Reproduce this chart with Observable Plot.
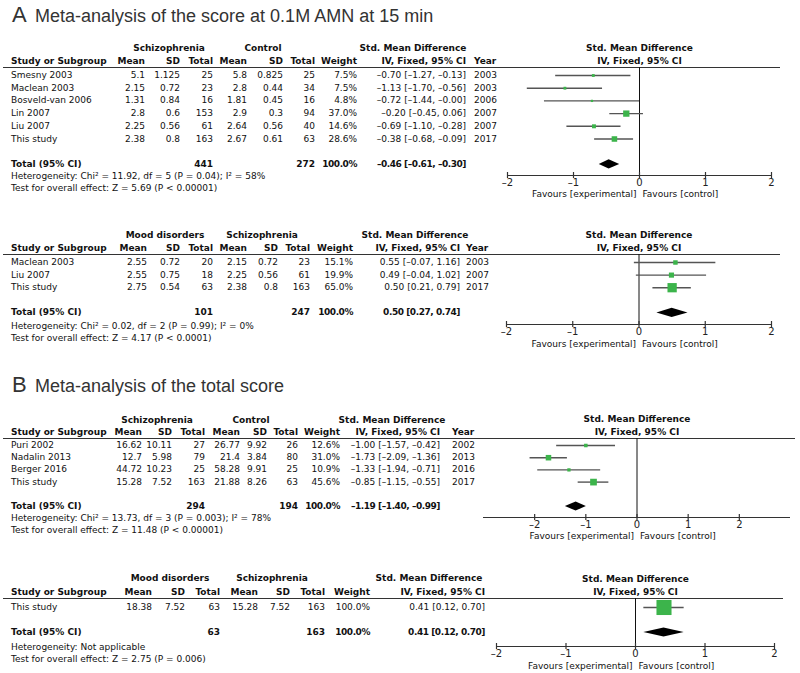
<!DOCTYPE html>
<html><head><meta charset="utf-8">
<script src="https://cdn.jsdelivr.net/npm/d3@7"></script>
<script src="https://cdn.jsdelivr.net/npm/@observablehq/plot@0.6"></script>
<style>
body{margin:0;background:#fff;}
#fig{position:relative;width:800px;height:673px;overflow:hidden;font-family:"DejaVu Sans",sans-serif;color:#111;background:#fff;}
.t{position:absolute;white-space:nowrap;line-height:1;font-size:9px;}
.rule{position:absolute;height:0;border-top:1.2px solid #333;}
.ttl{position:absolute;font-family:"Liberation Sans",Arial,sans-serif;color:#333;white-space:nowrap;line-height:1;transform:translateY(-50%);}
</style></head><body><div id="fig"></div>
<script>
// ---------- Panel A1: score at 0.1M AMN, Schizophrenia vs Control ----------
const a1Study = ["Smesny 2003","Maclean 2003","Bosveld-van 2006","Lin 2007","Liu 2007","This study"];
const a1Mean1 = [5.1, 2.15, 1.31, 2.8, 2.25, 2.38];
const a1Sd1   = [1.125, 0.72, 0.84, 0.6, 0.56, 0.8];
const a1N1    = [25, 23, 16, 153, 61, 163];
const a1Mean2 = [5.8, 2.8, 1.81, 2.9, 2.64, 2.67];
const a1Sd2   = [0.825, 0.44, 0.45, 0.3, 0.56, 0.61];
const a1N2    = [25, 34, 16, 94, 40, 63];
const a1Weight= [7.5, 7.5, 4.8, 37.0, 14.6, 28.6];
const a1Smd   = [-0.70, -1.13, -0.72, -0.20, -0.69, -0.38];
const a1Lo    = [-1.27, -1.70, -1.44, -0.45, -1.10, -0.68];
const a1Hi    = [-0.13, -0.56, -0.00, 0.06, -0.28, -0.09];
const a1Year  = [2003, 2003, 2006, 2007, 2007, 2017];
const a1Total = {n1: 441, n2: 272, w: 100.0, smd: -0.46, lo: -0.61, hi: -0.30};
const a1Het   = "Heterogeneity: Chi² = 11.92, df = 5 (P = 0.04); I² = 58%";
const a1Test  = "Test for overall effect: Z = 5.69 (P < 0.00001)";

// ---------- Panel A2: Mood disorders vs Schizophrenia ----------
const a2Study = ["Maclean 2003","Liu 2007","This study"];
const a2Mean1 = [2.55, 2.55, 2.75];
const a2Sd1   = [0.72, 0.75, 0.54];
const a2N1    = [20, 18, 63];
const a2Mean2 = [2.15, 2.25, 2.38];
const a2Sd2   = [0.72, 0.56, 0.8];
const a2N2    = [23, 61, 163];
const a2Weight= [15.1, 19.9, 65.0];
const a2Smd   = [0.55, 0.49, 0.50];
const a2Lo    = [-0.07, -0.04, 0.21];
const a2Hi    = [1.16, 1.02, 0.79];
const a2Year  = [2003, 2007, 2017];
const a2Total = {n1: 101, n2: 247, w: 100.0, smd: 0.50, lo: 0.27, hi: 0.74};
const a2Het   = "Heterogeneity: Chi² = 0.02, df = 2 (P = 0.99); I² = 0%";
const a2Test  = "Test for overall effect: Z = 4.17 (P < 0.0001)";

// ---------- Panel B1: total score, Schizophrenia vs Control ----------
const b1Study = ["Puri 2002","Nadalin 2013","Berger 2016","This study"];
const b1Mean1 = [16.62, 12.7, 44.72, 15.28];
const b1Sd1   = [10.11, 5.98, 10.23, 7.52];
const b1N1    = [27, 79, 25, 163];
const b1Mean2 = [26.77, 21.4, 58.28, 21.88];
const b1Sd2   = [9.92, 3.84, 9.91, 8.26];
const b1N2    = [26, 80, 25, 63];
const b1Weight= [12.6, 31.0, 10.9, 45.6];
const b1Smd   = [-1.00, -1.73, -1.33, -0.85];
const b1Lo    = [-1.57, -2.09, -1.94, -1.15];
const b1Hi    = [-0.42, -1.36, -0.71, -0.55];
const b1Year  = [2002, 2013, 2016, 2017];
const b1Total = {n1: 294, n2: 194, w: 100.0, smd: -1.19, lo: -1.40, hi: -0.99};
const b1Het   = "Heterogeneity: Chi² = 13.73, df = 3 (P = 0.003); I² = 78%";
const b1Test  = "Test for overall effect: Z = 11.48 (P < 0.00001)";

// ---------- Panel B2: Mood disorders vs Schizophrenia ----------
const b2Study = ["This study"];
const b2Mean1 = [18.38];
const b2Sd1   = [7.52];
const b2N1    = [63];
const b2Mean2 = [15.28];
const b2Sd2   = [7.52];
const b2N2    = [163];
const b2Weight= [100.0];
const b2Smd   = [0.41];
const b2Lo    = [0.12];
const b2Hi    = [0.70];
const b2Total = {n1: 63, n2: 163, w: 100.0, smd: 0.41, lo: 0.12, hi: 0.70};
const b2Het   = "Heterogeneity: Not applicable";
const b2Test  = "Test for overall effect: Z = 2.75 (P = 0.006)";

const axisTicks = [-2, -1, 0, 1, 2];
const GREEN = "#3cb44b";

const fig = document.getElementById("fig");
function txt(s, x, y, o = {}) {
  const d = document.createElement("div");
  d.className = "t";
  d.textContent = s;
  d.style.left = x + "px";
  d.style.top = y + "px";
  const tx = o.anchor === "end" ? "-100%" : o.anchor === "middle" ? "-50%" : "0";
  d.style.transform = `translate(${tx},-50%)`;
  if (o.bold) d.style.fontWeight = "bold";
  if (o.tight) d.style.letterSpacing = "-0.45px";
  fig.appendChild(d);
}
function title(letter, text, y) {
  const a = document.createElement("div");
  a.className = "ttl"; a.textContent = letter;
  a.style.left = "12px"; a.style.top = y + "px"; a.style.fontSize = "22px";
  fig.appendChild(a);
  const b = document.createElement("div");
  b.className = "ttl"; b.textContent = text;
  b.style.left = "35px"; b.style.top = (y + 1) + "px"; b.style.fontSize = "18px";
  fig.appendChild(b);
}
const sgn = v => (v < 0 || Object.is(v, -0)) ? "–" + Math.abs(v).toFixed(2) : v.toFixed(2);
const ciStr = (e, l, h) => `${sgn(e)} [${sgn(l)}, ${sgn(h)}]`;
const pct = v => v.toFixed(1) + "%";
const tickFmt = d => d < 0 ? "–" + Math.abs(d) : String(d);

function panel(D, L) {
  const c = L.cols;
  txt(D.g1, L.g1c, L.grpY, {anchor: "middle", bold: true});
  txt(D.g2, L.g2c, L.grpY, {anchor: "middle", bold: true});
  txt("Std. Mean Difference", L.smdc, L.grpY, {anchor: "middle", bold: true});
  txt("Study or Subgroup", c.study, L.hdrY, {bold: true});
  [["Mean", c.m1], ["SD", c.s1], ["Total", c.n1], ["Mean", c.m2], ["SD", c.s2], ["Total", c.n2], ["Weight", c.w], ["IV, Fixed, 95% CI", c.ci]]
    .forEach(([s, x]) => txt(s, x, L.hdrY, {anchor: "end", bold: true}));
  if (D.year) txt("Year", c.year, L.hdrY, {bold: true});
  const r = document.createElement("div");
  r.className = "rule";
  r.style.left = "3px"; r.style.width = (L.ruleRight - 3) + "px"; r.style.top = L.lineY + "px";
  fig.appendChild(r);
  D.study.forEach((s, i) => {
    const y = L.row0 + i * L.step;
    txt(s, c.study, y);
    txt(String(D.m1[i]), c.m1, y, {anchor: "end"});
    txt(String(D.s1[i]), c.s1, y, {anchor: "end"});
    txt(String(D.n1[i]), c.n1, y, {anchor: "end"});
    txt(String(D.m2[i]), c.m2, y, {anchor: "end"});
    txt(String(D.s2[i]), c.s2, y, {anchor: "end"});
    txt(String(D.n2[i]), c.n2, y, {anchor: "end"});
    txt(pct(D.w[i]), c.w, y, {anchor: "end"});
    txt(ciStr(D.smd[i], D.lo[i], D.hi[i]), c.ci, y, {anchor: "end"});
    if (D.year) txt(String(D.year[i]), c.year, y);
  });
  const n = D.study.length;
  const ty = L.row0 + (n + 1) * L.step;
  const T = D.total;
  txt("Total (95% CI)", c.study, ty, {bold: true});
  txt(String(T.n1), c.n1, ty, {anchor: "end", bold: true});
  txt(String(T.n2), c.n2, ty, {anchor: "end", bold: true});
  txt(pct(T.w), c.w, ty, {anchor: "end", bold: true, tight: true});
  txt(ciStr(T.smd, T.lo, T.hi), c.ci, ty, {anchor: "end", bold: true, tight: true});
  txt(D.het, c.study, L.hetY);
  txt(D.test, c.study, L.testY);

  // forest plot
  const rows = D.study.map((s, i) => ({i, est: D.smd[i], lo: D.lo[i], hi: D.hi[i], w: D.w[i]}));
  const h = 4.6 / L.step;
  const diamond = [
    {y: n + 1 - h, x1: T.smd, x2: T.smd},
    {y: n + 1, x1: T.lo, x2: T.hi},
    {y: n + 1 + h, x1: T.smd, x2: T.smd}
  ];
  const yTop = -(L.row0 - L.lineY) / L.step;
  const yBot = (L.axisY - L.row0) / L.step;
  const tk = 3 / L.step;
  const top = L.lineY - 30;
  const H = L.axisY - top + 30;
  const svg = Plot.plot({
    width: 800, height: H,
    marginLeft: L.xL, marginRight: 800 - L.xR, marginTop: 30, marginBottom: 30,
    x: {domain: L.xDomain},
    y: {domain: [yTop, yBot], reverse: true, axis: null},
    r: {type: "sqrt", domain: [0, 100], range: [0, L.rMax]},
    style: {background: "transparent", overflow: "visible", fontFamily: "DejaVu Sans", fontSize: "9px", color: "#111"},
    marks: [
      Plot.ruleX([0], {stroke: "#111", strokeWidth: 1}),
      Plot.ruleY([yBot], {stroke: "#333", strokeWidth: 1.2}),
      Plot.ruleX(axisTicks, {x: d => d, y1: yBot - tk, y2: yBot + tk, stroke: "#333", strokeWidth: 1.2}),
      Plot.axisX({ticks: axisTicks, tickSize: 0, tickPadding: 3, tickFormat: tickFmt, fontSize: 10, fill: "#222", label: null}),
      Plot.ruleY(rows, {y: "i", x1: "lo", x2: "hi", stroke: "#555", strokeWidth: 1.4}),
      Plot.dot(rows, {x: "est", y: "i", r: "w", symbol: "square", fill: GREEN, stroke: "none"}),
      Plot.areaX(diamond, {y: "y", x1: "x1", x2: "x2", fill: "#000"}),
      Plot.text(["Std. Mean Difference"], {x: () => 0, frameAnchor: "top", lineAnchor: "middle", dy: -19, fontWeight: "bold"}),
      Plot.text(["IV, Fixed, 95% CI"], {x: () => 0, frameAnchor: "top", lineAnchor: "middle", dy: -6, fontWeight: "bold"}),
      Plot.text(["Favours [experimental]"], {x: () => 0, frameAnchor: "bottom", lineAnchor: "middle", dy: L.favDy, dx: -3, textAnchor: "end"}),
      Plot.text(["Favours [control]"], {x: () => 0, frameAnchor: "bottom", lineAnchor: "middle", dy: L.favDy, dx: 3, textAnchor: "start"})
    ]
  });
  svg.style.position = "absolute";
  svg.style.left = "0px";
  svg.style.top = top + "px";
  fig.appendChild(svg);
}

title("A", "Meta-analysis of the score at 0.1M AMN at 15 min", 15);
title("B", "Meta-analysis of the total score", 385);

panel(
  {g1: "Schizophrenia", g2: "Control", study: a1Study, m1: a1Mean1, s1: a1Sd1, n1: a1N1, m2: a1Mean2, s2: a1Sd2, n2: a1N2,
   w: a1Weight, smd: a1Smd, lo: a1Lo, hi: a1Hi, year: a1Year, total: a1Total, het: a1Het, test: a1Test},
  {cols: {study: 11, m1: 145, s1: 180, n1: 213, m2: 247, s2: 283, n2: 315, w: 357, ci: 466, year: 474},
   g1c: 169, g2c: 263, smdc: 413, grpY: 48, hdrY: 61, lineY: 67, row0: 75, step: 12.7, hetY: 176, testY: 188,
   axisY: 175, ruleRight: 780, xDomain: [-2, 2], xL: 507, xR: 771, rMax: 5.85, favDy: 19});

panel(
  {g1: "Mood disorders", g2: "Schizophrenia", study: a2Study, m1: a2Mean1, s1: a2Sd1, n1: a2N1, m2: a2Mean2, s2: a2Sd2, n2: a2N2,
   w: a2Weight, smd: a2Smd, lo: a2Lo, hi: a2Hi, year: a2Year, total: a2Total, het: a2Het, test: a2Test},
  {cols: {study: 11, m1: 147, s1: 180, n1: 213, m2: 247, s2: 278, n2: 310, w: 353, ci: 460, year: 466},
   g1c: 165, g2c: 262, smdc: 415, grpY: 235, hdrY: 248, lineY: 254, row0: 262, step: 12.6, hetY: 326, testY: 338,
   axisY: 324, ruleRight: 780, xDomain: [-2, 2], xL: 506, xR: 771, rMax: 6.5, favDy: 20});

panel(
  {g1: "Schizophrenia", g2: "Control", study: b1Study, m1: b1Mean1, s1: b1Sd1, n1: b1N1, m2: b1Mean2, s2: b1Sd2, n2: b1N2,
   w: b1Weight, smd: b1Smd, lo: b1Lo, hi: b1Hi, year: b1Year, total: b1Total, het: b1Het, test: b1Test},
  {cols: {study: 11, m1: 142, s1: 172, n1: 205, m2: 240, s2: 267, n2: 298, w: 340, ci: 440, year: 452},
   g1c: 157, g2c: 251, smdc: 392, grpY: 420, hdrY: 432, lineY: 438, row0: 445, step: 12.2, hetY: 518, testY: 530,
   axisY: 517, ruleRight: 795, xDomain: [-3, 3], xL: 483, xR: 790, rMax: 5.6, favDy: 19});

panel(
  {g1: "Mood disorders", g2: "Schizophrenia", study: b2Study, m1: b2Mean1, s1: b2Sd1, n1: b2N1, m2: b2Mean2, s2: b2Sd2, n2: b2N2,
   w: b2Weight, smd: b2Smd, lo: b2Lo, hi: b2Hi, year: null, total: b2Total, het: b2Het, test: b2Test},
  {cols: {study: 11, m1: 152, s1: 185, n1: 220, m2: 258, s2: 290, n2: 325, w: 370, ci: 485},
   g1c: 170, g2c: 272, smdc: 429, grpY: 578, hdrY: 592, lineY: 598, row0: 607, step: 12.5, hetY: 647, testY: 659,
   axisY: 646, ruleRight: 783, xDomain: [-2, 2], xL: 496, xR: 774, rMax: 8.5, favDy: 20});
</script>
</body></html>
